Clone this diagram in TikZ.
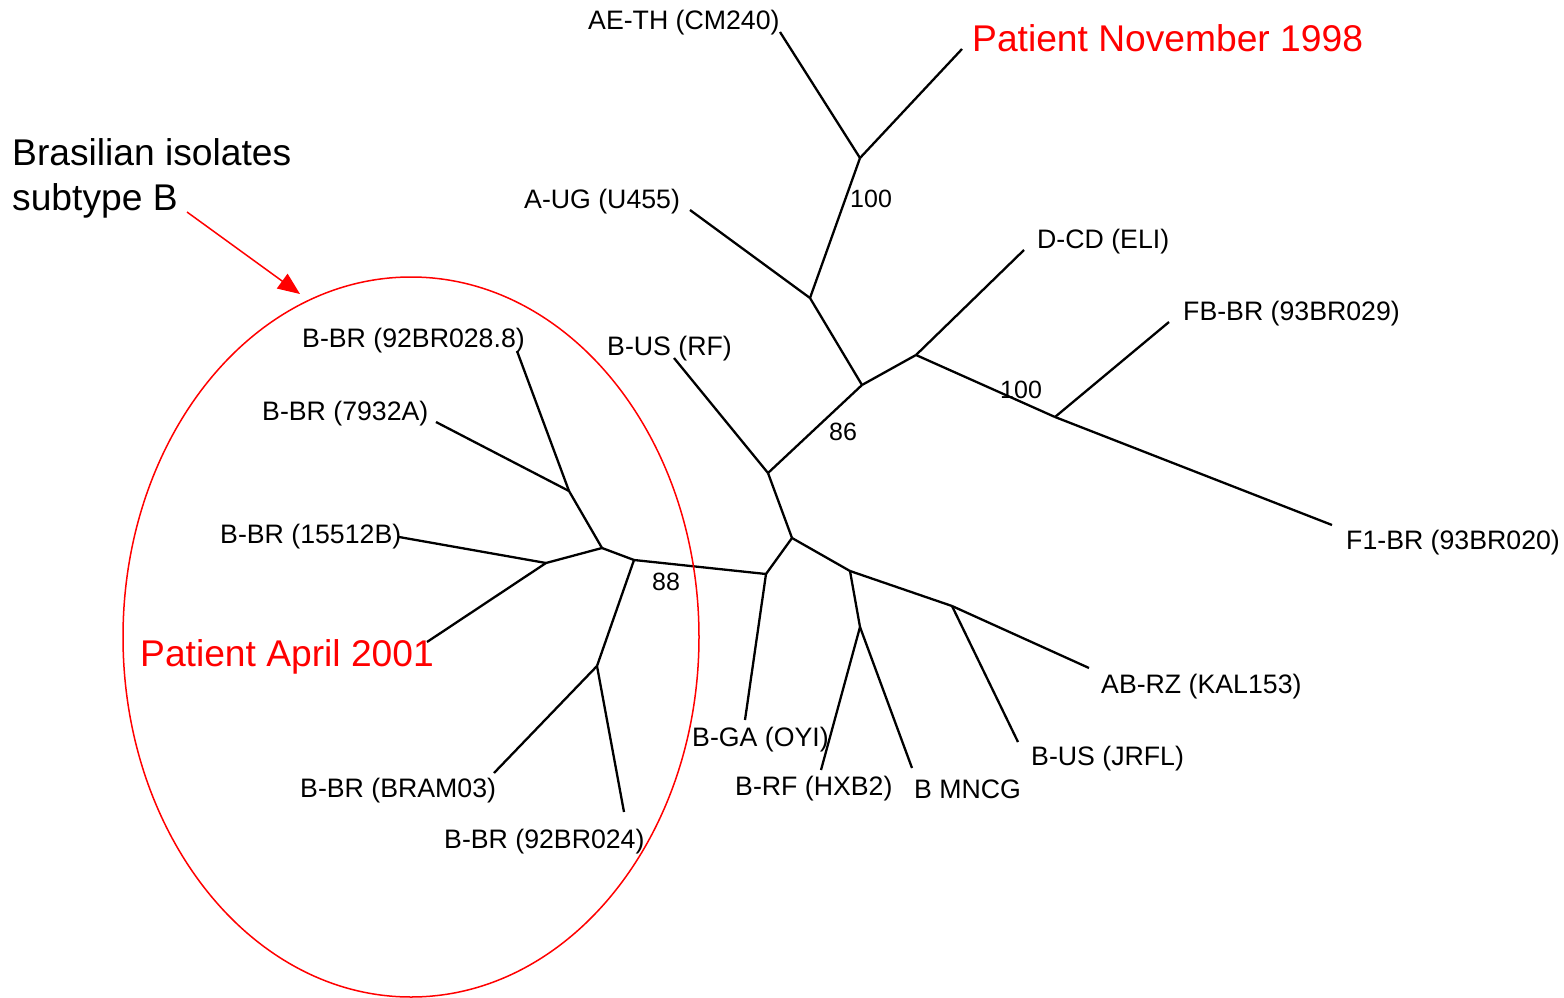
\documentclass[tikz,border=0pt]{standalone}
\usepackage{fontspec}
\setmainfont{Liberation Sans}
\usetikzlibrary{arrows.meta,shapes.geometric}
\begin{document}
\begin{tikzpicture}[x=1pt,y=-1pt,
  br/.style={line width=2.3pt},
  lab/.style={font=\fontsize{26.7}{30}\selectfont, inner sep=0pt, anchor=base west},
  num/.style={font=\fontsize{25}{30}\selectfont, inner sep=0pt, anchor=base west},
  big/.style={font=\fontsize{37.2}{45}\selectfont, inner sep=0pt, anchor=base west},
  redlab/.style={big, text=red},
  redline/.style={draw=red, line width=1.5pt}]
\useasboundingbox (0,0) rectangle (1564,998);
% tree vertices
\coordinate (n1) at (860,158);
\coordinate (tAE) at (780,32);
\coordinate (tPN) at (962,49);
\coordinate (n2) at (810,298);
\coordinate (tAUG) at (690,210);
\coordinate (n3) at (862,385);
\coordinate (n4) at (916,355);
\coordinate (tDCD) at (1024,250);
\coordinate (n6) at (1055,417);
\coordinate (tFB) at (1169,322);
\coordinate (tF1) at (1332,525);
\coordinate (n5) at (768,473);
\coordinate (tBUSRF) at (674,358);
\coordinate (n11) at (792,538);
\coordinate (n7) at (766,574);
\coordinate (tBGA) at (745,720);
\coordinate (n8) at (850,571);
\coordinate (n9) at (860,627);
\coordinate (tBRF) at (821,770);
\coordinate (tMNCG) at (912,768);
\coordinate (n10) at (952,606);
\coordinate (tJRFL) at (1018,742);
\coordinate (tKAL) at (1089,668);
\coordinate (n12) at (634,560);
\coordinate (n13) at (602,548);
\coordinate (n14) at (569,491);
\coordinate (t028) at (517,351);
\coordinate (t7932) at (436,422);
\coordinate (n15) at (546,563);
\coordinate (t15512) at (399,537);
\coordinate (tPA) at (427,642);
\coordinate (n16) at (597,666);
\coordinate (tBRAM) at (494,773);
\coordinate (t024) at (624,812);
% branches
\draw[br] (n1) -- (tAE);
\draw[br] (n1) -- (tPN);
\draw[br] (n1) -- (n2);
\draw[br] (n2) -- (tAUG);
\draw[br] (n2) -- (n3);
\draw[br] (n3) -- (n4);
\draw[br] (n4) -- (tDCD);
\draw[br] (n4) -- (n6);
\draw[br] (n6) -- (tFB);
\draw[br] (n6) -- (tF1);
\draw[br] (n3) -- (n5);
\draw[br] (n5) -- (tBUSRF);
\draw[br] (n5) -- (n11);
\draw[br] (n11) -- (n7);
\draw[br] (n7) -- (tBGA);
\draw[br] (n7) -- (n12);
\draw[br] (n11) -- (n8);
\draw[br] (n8) -- (n9);
\draw[br] (n9) -- (tBRF);
\draw[br] (n9) -- (tMNCG);
\draw[br] (n8) -- (n10);
\draw[br] (n10) -- (tJRFL);
\draw[br] (n10) -- (tKAL);
\draw[br] (n12) -- (n13);
\draw[br] (n13) -- (n14);
\draw[br] (n14) -- (t028);
\draw[br] (n14) -- (t7932);
\draw[br] (n13) -- (n15);
\draw[br] (n15) -- (t15512);
\draw[br] (n15) -- (tPA);
\draw[br] (n12) -- (n16);
\draw[br] (n16) -- (tBRAM);
\draw[br] (n16) -- (t024);
% leaf labels
\node[lab] (lAE) at (588,30) {AE-TH (CM240)};
\node[lab] (lAUG) at (524,208) {A-UG (U455)};
\node[lab] (lDCD) at (1037,248) {D-CD (ELI)};
\node[lab] (lFB) at (1183,320) {FB-BR (93BR029)};
\node[lab] (lF1) at (1346,549) {F1-BR (93BR020)};
\node[lab] (lKAL) at (1101,693) {AB-RZ (KAL153)};
\node[lab] (lJRFL) at (1031,765) {B-US (JRFL)};
\node[lab] (lMNCG) at (914,798) {B MNCG};
\node[lab] (lBRF) at (735,795) {B-RF (HXB2)};
\node[lab] (lBGA) at (692,746) {B-GA (OYI)};
\node[lab] (lBUSRF) at (607,355) {B-US (RF)};
\node[lab] (l028) at (302,347) {B-BR (92BR028.8)};
\node[lab] (l7932) at (262,420) {B-BR (7932A)};
\node[lab] (l15512) at (220,543) {B-BR (15512B)};
\node[lab] (lBRAM) at (300,797) {B-BR (BRAM03)};
\node[lab] (l024) at (444,848) {B-BR (92BR024)};
% bootstrap values
\node[num] (b1) at (850,207) {100};
\node[num] (b2) at (1000,398) {100};
\node[num] (b3) at (829,440) {86};
\node[num] (b4) at (652,590) {88};
% red annotations
\node[redlab] (pN) at (972,52) {Patient November 1998};
\node[redlab] (pA) at (140,666) {Patient April 2001};
\node[big] (bi1) at (12,165) {Brasilian isolates};
\node[big] (bi2) at (12,210) {subtype B};
\node[draw=red, line width=1.5pt, ellipse, minimum width=576pt, minimum height=720pt, inner sep=0pt] (ell) at (411,637) {};
\coordinate (aS) at (187,212);
\coordinate (aE) at (300,294);
\draw[redline, -{Triangle[length=22pt,width=18pt]}] (aS) -- (aE);
\end{tikzpicture}
\end{document}
